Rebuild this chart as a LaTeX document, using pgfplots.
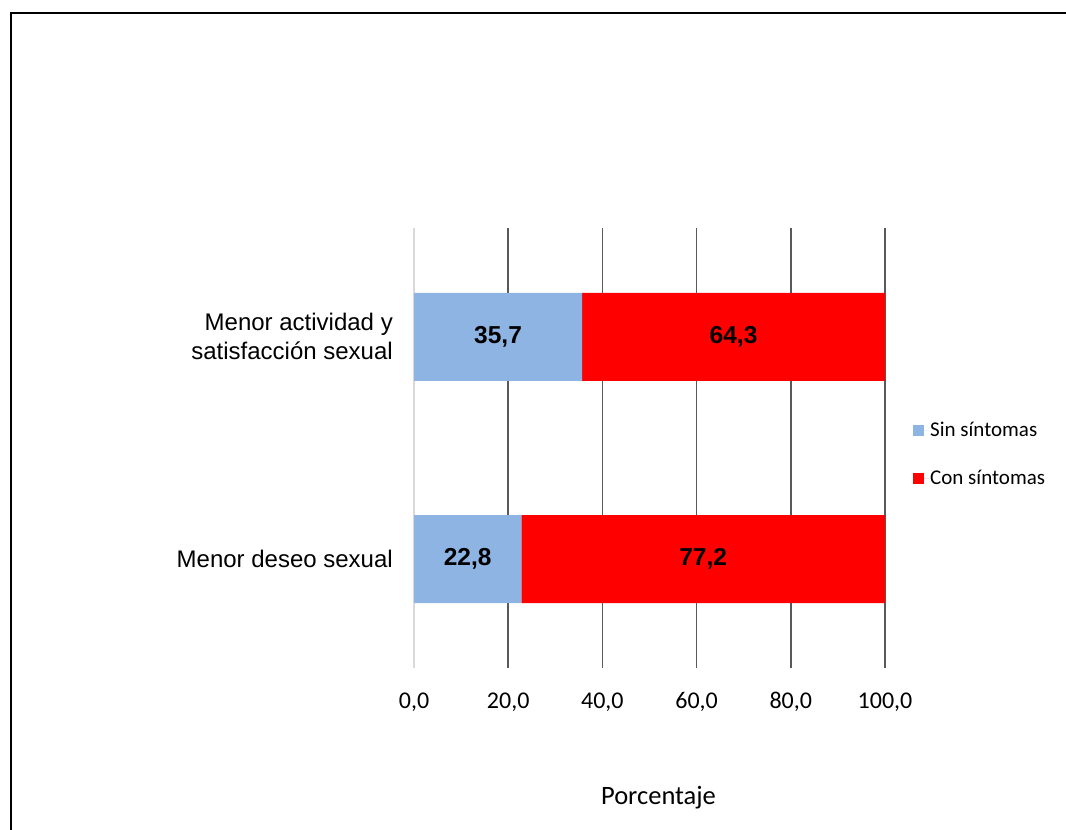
\documentclass[border=0pt]{standalone}
\usepackage{pgfplots}
\pgfplotsset{compat=1.18}
\usepackage{pgfplotstable}
\usepackage{fontspec}
\setmainfont{Carlito}
\newfontfamily\arialfont{Liberation Sans}
\definecolor{sinblue}{HTML}{8EB4E3}
\definecolor{conred}{HTML}{FF0000}
\definecolor{gridgray}{HTML}{595959}
\definecolor{zerogray}{HTML}{D9D9D9}

% cat: 0 = Menor deseo sexual, 1 = Menor actividad y satisfaccion sexual
\pgfplotstableread{
cat sin con
0 22.8 77.2
1 35.7 64.3
}\datatable

\pgfplotsset{
  commonaxis/.style={
    at={(414pt,162pt)}, anchor=south west,
    scale only axis, width=471pt, height=440pt,
    xmin=0, xmax=100, ymin=-0.49, ymax=1.49,
    /pgf/number format/.cd, fixed, fixed zerofill, precision=1,
    use comma, assume math mode=true, /pgfplots/.cd,
  }
}

\begin{document}
\begin{tikzpicture}
\useasboundingbox (0pt,0pt) rectangle (1066pt,830pt);
\draw[line width=2.2pt] (11pt,0pt) -- (11pt,817pt) -- (1066pt,817pt);

\begin{axis}[
  commonaxis,
  xbar stacked, bar width=88pt,
  axis line style={draw=none},
  xtick={20,40,60,80,100},
  extra x ticks={0},
  extra x tick style={grid style={draw=zerogray, line width=1.8pt}},
  xmajorgrids, grid style={draw=gridgray, line width=1.6pt},
  major tick length=0pt,
  ytick={0,1},
  yticklabels={Menor deseo sexual, {Menor actividad y\\satisfacción sexual}},
  yticklabel style={align=right, font=\arialfont\fontsize{24}{29}\selectfont,
    anchor=east, xshift=-21pt, inner sep=0pt},
  xticklabel style={font=\fontsize{24}{29}\selectfont, anchor=base,
    yshift=-41pt, inner sep=0pt},
  xlabel={Porcentaje},
  xlabel style={at={(axis description cs:0.5,0)}, anchor=base,
    yshift=-136pt, xshift=9pt, font=\fontsize{26.5}{31}\selectfont},
  legend style={at={(1,0.486)}, anchor=west, xshift=28pt, draw=none,
    fill=none, inner sep=0pt, font=\fontsize{21}{25}\selectfont,
    row sep=32pt, nodes={inner sep=0pt}},
  legend cell align=left,
  legend image code/.code={%
    \fill[#1] (0pt,-5.5pt) rectangle (11pt,5.5pt);
    \path (0pt,0pt) -- (17pt,0pt);},
]
\addplot[fill=sinblue, draw=none] table[x=sin, y=cat]{\datatable};
\addlegendentry{Sin síntomas}
\addplot[fill=conred, draw=none] table[x=con, y=cat]{\datatable};
\addlegendentry{Con síntomas}
\end{axis}

% value labels centred in each segment
\begin{axis}[
  commonaxis, hide axis,
  nodes near coords,
  nodes near coords style={anchor=center, inner sep=0pt,
    font=\arialfont\bfseries\fontsize{24.5}{29}\selectfont},
]
\addplot[draw=none, mark=none, point meta=explicit]
  table[x expr=\thisrow{sin}/2, y=cat, meta=sin]{\datatable};
\addplot[draw=none, mark=none, point meta=explicit]
  table[x expr=\thisrow{sin}+\thisrow{con}/2, y=cat, meta=con]{\datatable};
\end{axis}
\end{tikzpicture}
\end{document}
